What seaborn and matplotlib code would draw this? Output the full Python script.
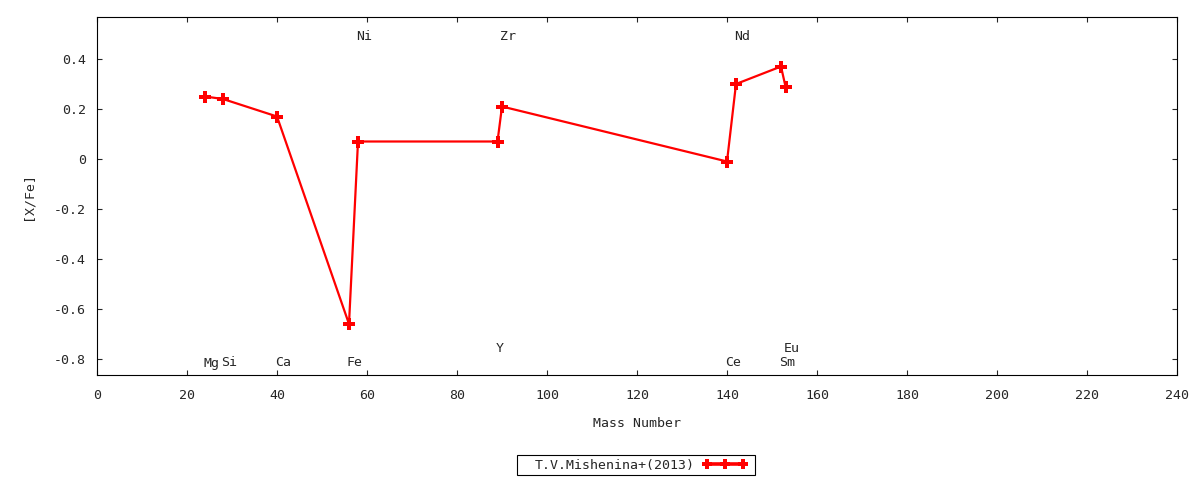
import numpy as np
import pandas as pd
import seaborn as sns
import matplotlib.pyplot as plt
import matplotlib.patches as mpatches

# data
elements = ["Mg", "Si", "Ca", "Fe", "Ni", "Y", "Zr", "Ce", "Nd", "Sm", "Eu"]
mass_number = [24, 28, 40, 56, 58, 89, 90, 140, 142, 152, 153]
x_fe = [0.25, 0.24, 0.17, -0.66, 0.07, 0.07, 0.21, -0.01, 0.30, 0.37, 0.29]
label_y = [-0.816, -0.816, -0.816, -0.816, 0.488, -0.76, 0.488, -0.816, 0.488, -0.816, -0.76]
series_name = "T.V.Mishenina+(2013)"
x_ticks = list(range(0, 241, 20))
y_ticks = [-0.8, -0.6, -0.4, -0.2, 0, 0.2, 0.4]
y_ticklabels = ["-0.8", "-0.6", "-0.4", "-0.2", "0", "0.2", "0.4"]

df = pd.DataFrame({"Mass Number": mass_number, "[X/Fe]": x_fe, "el": elements})

sns.set_style("ticks")
plt.rcParams['font.family'] = ['DejaVu Sans Mono', 'DejaVu Sans']
plt.rcParams['font.size'] = 9.5

fig = plt.figure(figsize=(12, 4.8), dpi=100)
ax = fig.add_axes([97/1200, 1-375/480, 1080/1200, 358/480])

sns.lineplot(data=df, x="Mass Number", y="[X/Fe]", ax=ax, color='#ff0000', lw=1.6,
             marker='P', markersize=8.5, markeredgewidth=0, estimator=None, sort=False,
             label=series_name, legend=False)

# element labels
for el, m, ly in zip(elements, mass_number, label_y):
    ax.annotate(el, (m, ly), xytext=(-2, 0), textcoords='offset pixels',
                ha='left', va='center', fontsize=9.5)

ax.set_xlim(0, 240)
ax.set_ylim(-0.864, 0.568)
ax.set_xticks(x_ticks)
ax.set_yticks(y_ticks)
ax.set_yticklabels(y_ticklabels)
ax.tick_params(direction='in', top=True, right=True, length=3.5, width=0.8, labelsize=9.5, pad=8)
ax.xaxis.set_tick_params(pad=10)
for s in ax.spines.values():
    s.set_linewidth(0.8)
    s.set_color('black')

ax.set_xlabel("Mass Number", fontsize=9.5, labelpad=11)
ax.set_ylabel("[X/Fe]", fontsize=9.5, labelpad=14)

# legend, gnuplot style: text first, box drawn separately
h, l = ax.get_legend_handles_labels()
leg = fig.legend(h, l, loc='center left', bbox_to_anchor=(535/1200, 1-465/480), markerfirst=False,
                 numpoints=3, frameon=False, fontsize=9.5, handlelength=3.3, handletextpad=0.6,
                 borderpad=0, borderaxespad=0)
for lh in leg.legend_handles:
    lh.set_markersize(6.5)
    lh.set_linewidth(2.6)
fig.patches.append(mpatches.Rectangle((517/1200, 1-475/480), 238/1200, 20/480, transform=fig.transFigure,
                                      fill=False, edgecolor='black', lw=0.8))

fig.savefig("out.png", dpi=100)
